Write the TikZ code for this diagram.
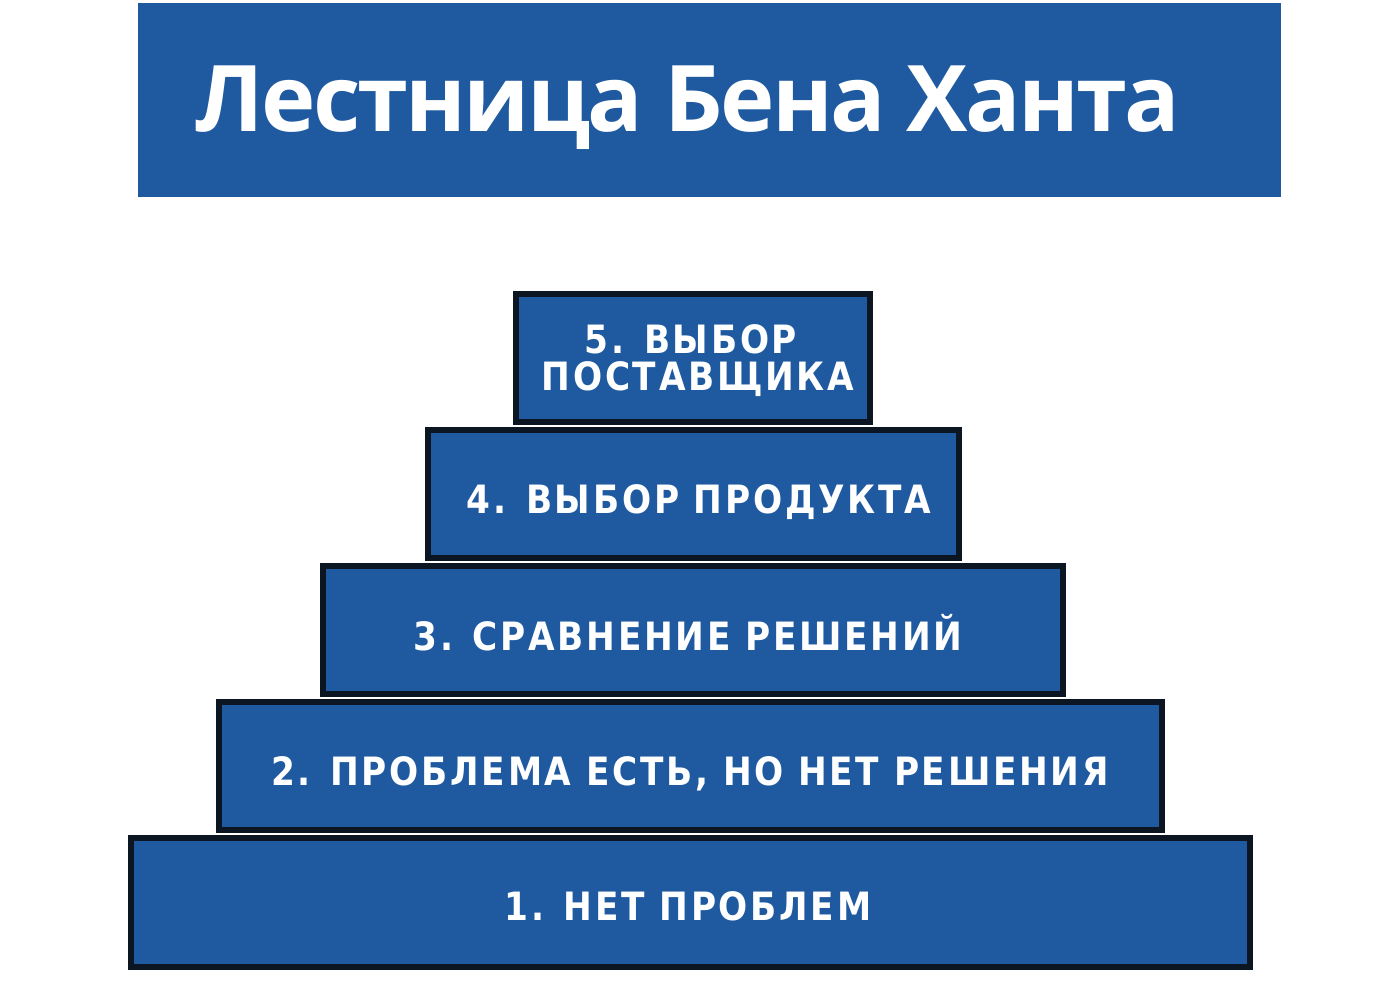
\documentclass[tikz,border=0pt]{standalone}
\usepackage{fontspec}
\setmainfont{Open Sans}
\newfontfamily\titlefont[LetterSpace=-3]{Open Sans}
\newfontfamily\stepfont[LetterSpace=7,FakeStretch=0.88]{DejaVu Sans}
\definecolor{hdrblue}{HTML}{1F5AA0}
\definecolor{stepblue}{HTML}{1F5AA0}
\definecolor{stepedge}{HTML}{0C1522}
\begin{document}
\begin{tikzpicture}[x=1pt,y=-1pt,
  stepbox/.style={fill=stepblue,draw=stepedge,line width=6pt},
  steptext/.style={text=white,font=\stepfont\bfseries\fontsize{39}{40}\selectfont,align=center,inner sep=0pt}]
\useasboundingbox[fill=white] (0,0) rectangle (1400,1000);
% header
\fill[hdrblue] (138,3) rectangle (1281,197);
\node[text=white,font=\titlefont\bfseries\fontsize{92}{94}\selectfont,anchor=base,inner sep=0pt] (title) at (688,132) {Лестница Бена Ханта};
% steps
\draw[stepbox] (131,838) rectangle (1250,967);
\draw[stepbox] (219,702) rectangle (1162,830);
\draw[stepbox] (323,566) rectangle (1063,694);
\draw[stepbox] (428,430) rectangle (959,558);
\draw[stepbox] (516,294) rectangle (870,422);
\node[steptext,anchor=base] (s1) at (688,920) {1. НЕТ ПРОБЛЕМ};
\node[steptext,anchor=base] (s2) at (690,785) {2. ПРОБЛЕМА ЕСТЬ, НО НЕТ РЕШЕНИЯ};
\node[steptext,anchor=base] (s3) at (688,650) {3. СРАВНЕНИЕ РЕШЕНИЙ};
\node[steptext,anchor=base] (s4) at (699,513) {4. ВЫБОР ПРОДУКТА};
\node[steptext,anchor=base] (s5a) at (691,353) {5. ВЫБОР};
\node[steptext,anchor=base] (s5b) at (698,390) {ПОСТАВЩИКА};
\end{tikzpicture}
\end{document}
